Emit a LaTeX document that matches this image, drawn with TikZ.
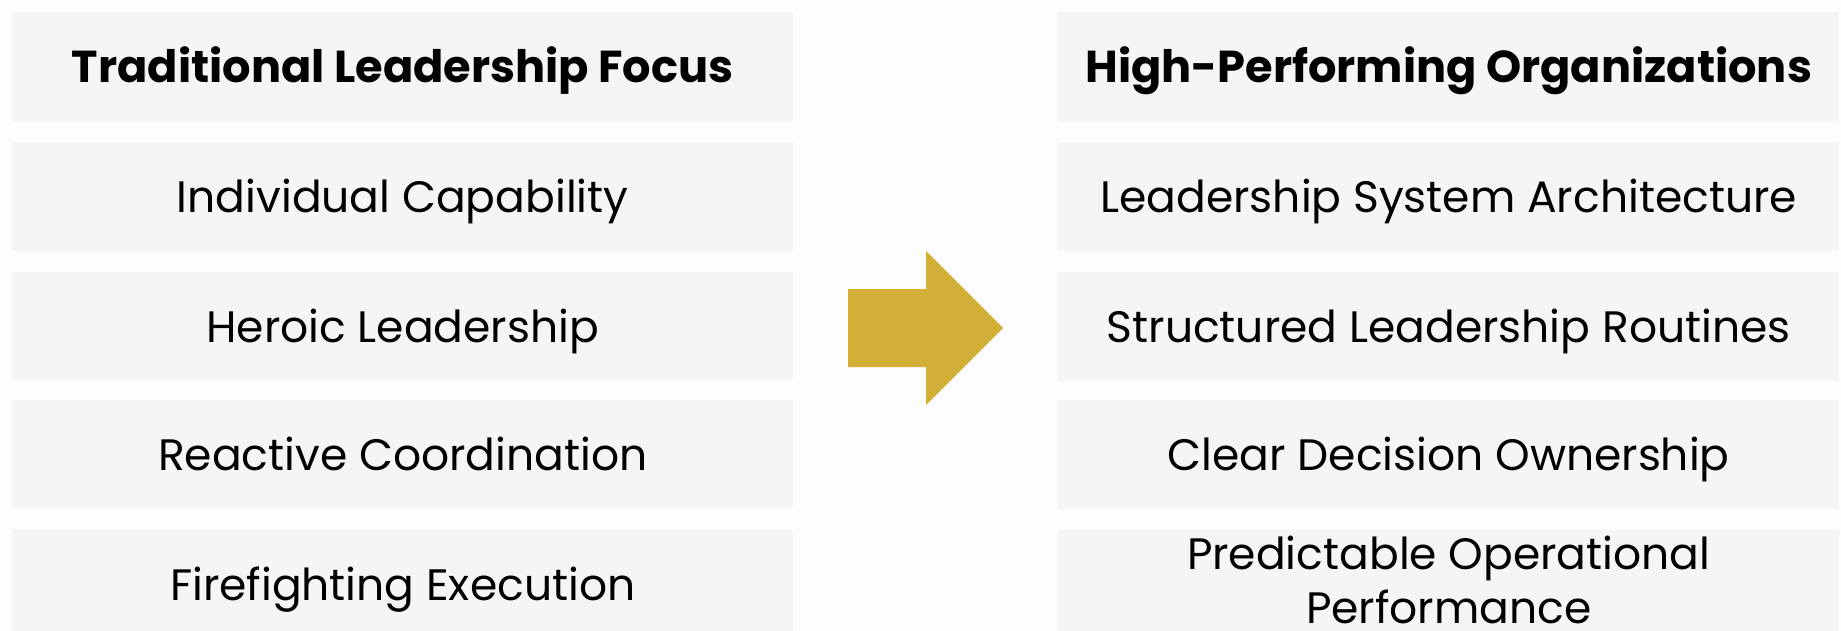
\documentclass[tikz,border=0pt]{standalone}
\usepackage{fontspec}
\setmainfont{Poppins}
\begin{document}
\begin{tikzpicture}[x=1pt,y=-1pt,
  box/.style={fill=boxgray, draw=none, minimum width=781pt, minimum height=109pt, inner sep=0pt, anchor=north west, align=center, font=\fontsize{44}{54}\selectfont, text=black, text height=31pt, text depth=0pt},
  head/.style={box, font=\bfseries\fontsize{44.7}{54}\selectfont}]
\definecolor{boxgray}{HTML}{F5F5F5}
\definecolor{bg}{HTML}{FDFDFD}
\definecolor{gold}{HTML}{D4AF37}
\fill[bg] (0,0) rectangle (1841,631);
\useasboundingbox (0,0) rectangle (1841,631);
\node[head] (l0) at (12,12) {Traditional Leadership Focus};
\node[box] (l1) at (12,142) {Individual Capability};
\node[box] (l2) at (12,272) {Heroic Leadership};
\node[box] (l3) at (12,400) {Reactive Coordination};
\node[box] (l4) at (12,530) {Firefighting Execution};
\node[head] (r0) at (1058,12) {High-Performing Organizations};
\node[box] (r1) at (1058,142) {Leadership System Architecture};
\node[box] (r2) at (1058,272) {Structured Leadership Routines};
\node[box] (r3) at (1058,400) {Clear Decision Ownership};
\node[box, text height=, text depth=10pt] (r4) at (1058,530) {Predictable Operational\\Performance};
\fill[gold] (848,289) -- (926,289) -- (926,251) -- (1003,328) -- (926,405) -- (926,367) -- (848,367) -- cycle;
\end{tikzpicture}
\end{document}
